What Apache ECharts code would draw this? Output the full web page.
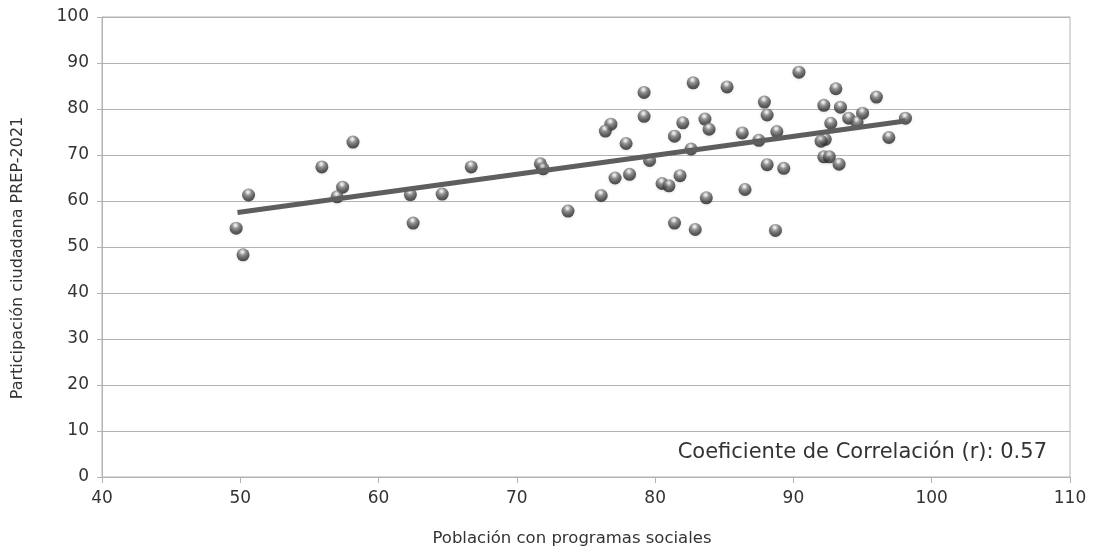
<!DOCTYPE html>
<html>
<head>
<meta charset="utf-8">
<script src="https://cdn.jsdelivr.net/npm/echarts@6/dist/echarts.min.js"></script>
<style>html,body{margin:0;padding:0;background:#fff}#c{width:1094px;height:556px}</style>
</head>
<body>
<div id="c"></div>
<script>
const xValues = [58.15,55.9,66.7,57.4,57.0,50.6,62.3,64.6,49.7,62.5,50.2,
  82.75,85.2,79.2,87.9,88.1,79.2,82.0,83.6,83.9,76.8,76.4,86.3,88.8,81.4,77.9,87.5,82.6,71.7,71.9,79.6,88.1,89.3,77.1,78.15,81.8,80.5,81.0,86.5,76.1,83.7,73.7,81.4,82.9,88.7,
  90.4,93.07,96.0,92.2,93.4,95.0,94.0,94.6,98.1,92.7,92.3,92.0,96.9,92.2,92.6,93.3];
const yValues = [72.8,67.4,67.4,63.0,60.9,61.3,61.4,61.5,54.1,55.2,48.3,
  85.7,84.8,83.6,81.5,78.7,78.4,77.0,77.8,75.6,76.7,75.2,74.8,75.1,74.1,72.5,73.2,71.3,68.1,67.0,68.8,67.9,67.1,65.0,65.8,65.5,63.8,63.3,62.5,61.2,60.7,57.8,55.2,53.8,53.6,
  88.0,84.4,82.6,80.8,80.4,79.1,78.0,77.1,78.0,76.9,73.4,73.0,73.8,69.6,69.6,68.0];
const trendX = [49.8, 98.1];
const trendY = [57.5, 77.4];
const xTicks = [40,50,60,70,80,90,100,110];
const yTicks = [0,10,20,30,40,50,60,70,80,90,100];
const xName = 'Población con programas sociales';
const yName = 'Participación ciudadana PREP-2021';
const note = 'Coeficiente de Correlación (r): 0.57';

const pts = xValues.map((x,i)=>[x,yValues[i]]);
const trend = trendX.map((x,i)=>[x,trendY[i]]);
const font = 'DejaVu Sans';
const chart = echarts.init(document.getElementById('c'));
chart.setOption({
  animation:false,
  backgroundColor:'#fff',
  grid:{left:102,right:24,top:17,bottom:79,show:true,borderColor:'#b3b3b3',borderWidth:1},
  xAxis:{type:'value',min:xTicks[0],max:xTicks[xTicks.length-1],interval:10,
    axisLine:{show:true,lineStyle:{color:'#b3b3b3'}},
    axisTick:{show:true,length:6,lineStyle:{color:'#b3b3b3'}},
    axisLabel:{fontFamily:font,fontSize:17,color:'#333',margin:13},
    splitLine:{show:false}},
  yAxis:{type:'value',min:yTicks[0],max:yTicks[yTicks.length-1],interval:10,
    axisLine:{show:true,lineStyle:{color:'#b3b3b3'}},
    axisTick:{show:true,length:5,lineStyle:{color:'#b3b3b3'}},
    axisLabel:{fontFamily:font,fontSize:17,color:'#333',margin:13},
    splitLine:{show:true,lineStyle:{color:'#b3b3b3'}}},
  graphic:[
    {type:'text',right:47,top:442,style:{text:note,fontFamily:font,fontSize:21,fill:'#333',textAlign:'right'}},
    {type:'text',x:572,y:539,style:{text:xName,fontFamily:font,fontSize:16.5,fill:'#333',textAlign:'center',textVerticalAlign:'middle'}},
    {type:'text',x:18,y:258,rotation:Math.PI/2,style:{text:yName,fontFamily:font,fontSize:16,fill:'#333',textAlign:'center',textVerticalAlign:'middle'}}
  ],
  series:[
    {type:'scatter',data:pts,symbolSize:13,z:2,
      itemStyle:{color:{type:'radial',x:0.45,y:0.28,r:0.75,colorStops:[
        {offset:0,color:'#ffffff'},{offset:0.12,color:'#dcdcdc'},{offset:0.35,color:'#7a7a7a'},{offset:0.7,color:'#3a3a3a'},{offset:1,color:'#1e1e1e'}]},
        shadowColor:'rgba(0,0,0,0.12)',shadowBlur:3,shadowOffsetY:1}},
    {type:'line',data:trend,symbol:'none',z:3,lineStyle:{color:'#5e5e5e',width:5}}
  ]
});
</script>
</body>
</html>
